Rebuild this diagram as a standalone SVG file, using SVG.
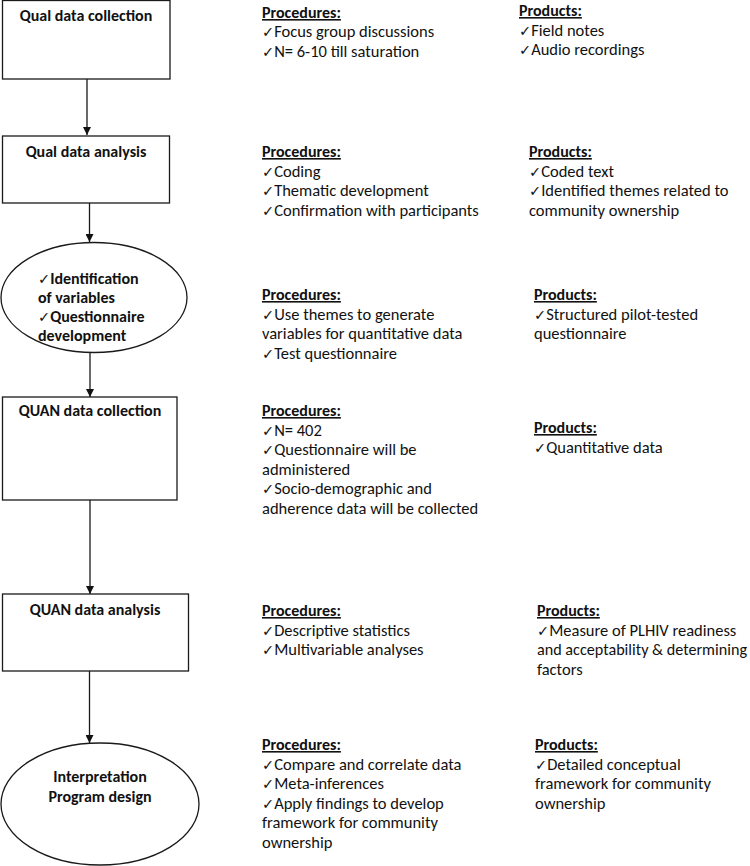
<svg xmlns="http://www.w3.org/2000/svg" width="750" height="866" viewBox="0 0 750 866">
<defs>
<style>
.shape{fill:#fff;stroke:#1a1a1a;stroke-width:1.3}
.t{font-family:Carlito,Lato,"Liberation Sans",sans-serif;font-size:16.5px;fill:#111}
.b{font-weight:bold;font-size:16px}
.h{font-weight:bold;text-decoration:underline;font-size:16px}
.c{text-anchor:middle}
.ck{font-family:"DejaVu Sans",sans-serif;font-size:14.5px;font-weight:normal}
.line{stroke:#1a1a1a;stroke-width:1.3;fill:none}
</style>
<marker id="ah" viewBox="0 0 10 10" refX="10" refY="5" markerWidth="8" markerHeight="8" markerUnits="userSpaceOnUse" orient="auto">
<path d="M0,0 L10,5 L0,10 z" fill="#111"/>
</marker>
</defs>
<rect width="750" height="866" fill="#fff"/>

<g id="connectors">
<line class="line" x1="87" y1="79" x2="87" y2="135" marker-end="url(#ah)"/>
<line class="line" x1="89.5" y1="203" x2="89.5" y2="242" marker-end="url(#ah)"/>
<line class="line" x1="90" y1="352" x2="90" y2="397" marker-end="url(#ah)"/>
<line class="line" x1="90" y1="500" x2="90" y2="594" marker-end="url(#ah)"/>
<line class="line" x1="89.5" y1="671" x2="89.5" y2="743" marker-end="url(#ah)"/>
</g>

<g id="n1">
<rect class="shape" x="2.5" y="0.5" width="167.5" height="78.5"/>
<text class="t b c" x="86" y="21">Qual data collection</text>
</g>
<g id="n2">
<rect class="shape" x="2.5" y="136" width="167" height="67"/>
<text class="t b c" x="86" y="157">Qual data analysis</text>
</g>
<g id="n3">
<ellipse class="shape" cx="94" cy="297.5" rx="93" ry="55"/>
<text class="t b" x="38" y="284"><tspan class="ck">✓</tspan>Identification</text>
<text class="t b" x="38" y="303">of variables</text>
<text class="t b" x="38" y="322"><tspan class="ck">✓</tspan>Questionnaire</text>
<text class="t b" x="38" y="341">development</text>
</g>
<g id="n4">
<rect class="shape" x="2.5" y="397" width="174.5" height="103"/>
<text class="t b c" x="90" y="416">QUAN data collection</text>
</g>
<g id="n5">
<rect class="shape" x="2.5" y="594" width="186" height="77"/>
<text class="t b c" x="95" y="615">QUAN data analysis</text>
</g>
<g id="n6">
<ellipse class="shape" cx="100" cy="804" rx="99" ry="61"/>
<text class="t b c" x="100" y="782">Interpretation</text>
<text class="t b c" x="100" y="802">Program design</text>
</g>

<g id="row1">
<text class="t h" x="262" y="18">Procedures:</text>
<text class="t" x="262" y="37"><tspan class="ck">✓</tspan>Focus group discussions</text>
<text class="t" x="262" y="56.5"><tspan class="ck">✓</tspan>N= 6-10 till saturation</text>
<text class="t h" x="519" y="16">Products:</text>
<text class="t" x="519" y="35.5"><tspan class="ck">✓</tspan>Field notes</text>
<text class="t" x="519" y="55"><tspan class="ck">✓</tspan>Audio recordings</text>
</g>
<g id="row2">
<text class="t h" x="262" y="157">Procedures:</text>
<text class="t" x="262" y="176.5"><tspan class="ck">✓</tspan>Coding</text>
<text class="t" x="262" y="196"><tspan class="ck">✓</tspan>Thematic development</text>
<text class="t" x="262" y="215.5"><tspan class="ck">✓</tspan>Confirmation with participants</text>
<text class="t h" x="529" y="157">Products:</text>
<text class="t" x="529" y="176.5"><tspan class="ck">✓</tspan>Coded text</text>
<text class="t" x="529" y="196"><tspan class="ck">✓</tspan>Identified themes related to</text>
<text class="t" x="529" y="215.5">community ownership</text>
</g>
<g id="row3">
<text class="t h" x="262" y="300">Procedures:</text>
<text class="t" x="262" y="319.5"><tspan class="ck">✓</tspan>Use themes to generate</text>
<text class="t" x="262" y="339">variables for quantitative data</text>
<text class="t" x="262" y="358.5"><tspan class="ck">✓</tspan>Test questionnaire</text>
<text class="t h" x="534" y="300">Products:</text>
<text class="t" x="534" y="319.5"><tspan class="ck">✓</tspan>Structured pilot-tested</text>
<text class="t" x="534" y="339">questionnaire</text>
</g>
<g id="row4">
<text class="t h" x="262" y="416">Procedures:</text>
<text class="t" x="262" y="435.5"><tspan class="ck">✓</tspan>N= 402</text>
<text class="t" x="262" y="455"><tspan class="ck">✓</tspan>Questionnaire will be</text>
<text class="t" x="262" y="474.5">administered</text>
<text class="t" x="262" y="494"><tspan class="ck">✓</tspan>Socio-demographic and</text>
<text class="t" x="262" y="513.5">adherence data will be collected</text>
<text class="t h" x="534" y="433">Products:</text>
<text class="t" x="534" y="452.5"><tspan class="ck">✓</tspan>Quantitative data</text>
</g>
<g id="row5">
<text class="t h" x="262" y="616">Procedures:</text>
<text class="t" x="262" y="635.5"><tspan class="ck">✓</tspan>Descriptive statistics</text>
<text class="t" x="262" y="655"><tspan class="ck">✓</tspan>Multivariable analyses</text>
<text class="t h" x="537" y="616">Products:</text>
<text class="t" x="537" y="635.5"><tspan class="ck">✓</tspan>Measure of PLHIV readiness</text>
<text class="t" x="537" y="655" textLength="210" lengthAdjust="spacingAndGlyphs">and acceptability &amp; determining</text>
<text class="t" x="537" y="674.5">factors</text>
</g>
<g id="row6">
<text class="t h" x="262" y="750">Procedures:</text>
<text class="t" x="262" y="769.5"><tspan class="ck">✓</tspan>Compare and correlate data</text>
<text class="t" x="262" y="789"><tspan class="ck">✓</tspan>Meta-inferences</text>
<text class="t" x="262" y="808.5"><tspan class="ck">✓</tspan>Apply findings to develop</text>
<text class="t" x="262" y="828">framework for community</text>
<text class="t" x="262" y="847.5">ownership</text>
<text class="t h" x="535" y="750">Products:</text>
<text class="t" x="535" y="769.5"><tspan class="ck">✓</tspan>Detailed conceptual</text>
<text class="t" x="535" y="789">framework for community</text>
<text class="t" x="535" y="808.5">ownership</text>
</g>
</svg>
